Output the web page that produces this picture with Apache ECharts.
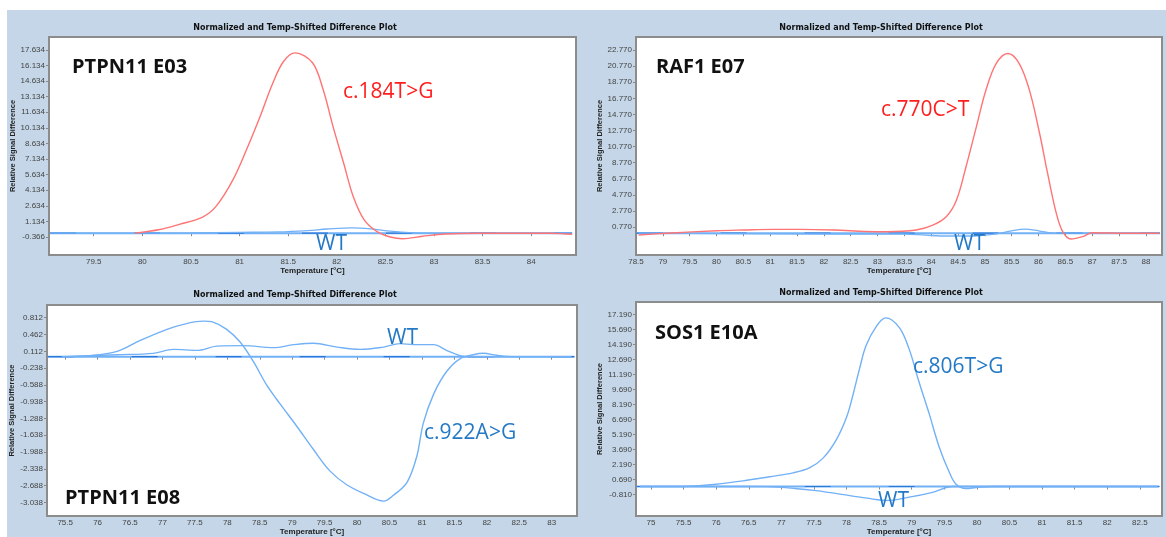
<!DOCTYPE html>
<html>
<head>
<meta charset="utf-8">
<script src="https://cdn.jsdelivr.net/npm/echarts@6/dist/echarts.min.js"></script>
<style>
  html, body { margin: 0; padding: 0; background: #ffffff; }
  #chart { width: 1166px; height: 537px; }
</style>
</head>
<body>
<div id="chart"></div>
<script>
// ---- PTPN11 E03 ----
const e03Temp   = [79.92, 80.18, 80.38, 80.62, 80.76, 80.93, 81.07, 81.21, 81.34, 81.45, 81.57, 81.75, 81.86, 81.96, 82.07, 82.17, 82.28, 82.41, 82.55, 82.68, 82.88, 83.12, 83.47, 83.9, 84.2, 84.36, 84.42];
const e03Mut    = [0.0, 0.35, 0.85, 1.55, 2.6, 5.1, 8.0, 11.2, 14.4, 16.5, 17.35, 16.4, 13.8, 10.3, 6.75, 3.5, 1.3, 0.17, -0.37, -0.53, -0.3, -0.08, 0.0, 0.0, 0.0, -0.08, -0.1];
const e03WtTemp = [79.05, 80.0, 80.5, 81.0, 81.4, 81.7, 81.9, 82.15, 82.35, 82.55, 82.75, 83.0, 84.42];
const e03Wt     = [0, 0, 0.03, 0.08, 0.12, 0.25, 0.4, 0.52, 0.42, 0.2, 0.05, 0, 0];
const e03XTicks = [79.5, 80, 80.5, 81, 81.5, 82, 82.5, 83, 83.5, 84];
const e03YTicks = [-0.366, 1.134, 2.634, 4.134, 5.634, 7.134, 8.634, 10.134, 11.634, 13.134, 14.634, 16.134, 17.634];

// ---- RAF1 E07 ----
const e07Temp   = [78.55, 79.08, 80.01, 80.5, 81.06, 81.56, 82.18, 82.98, 83.17, 83.72, 84.03, 84.28, 84.47, 84.65, 84.84, 85.02, 85.21, 85.43, 85.64, 85.83, 86.02, 86.17, 86.33, 86.45, 86.6, 86.82, 87.0, 87.62, 88.25];
const e07Mut    = [-0.22, 0.0, 0.31, 0.4, 0.48, 0.48, 0.4, 0.19, 0.19, 0.4, 1.0, 2.05, 4.1, 8.3, 13.2, 17.8, 21.1, 22.35, 21.1, 17.8, 12.4, 7.4, 2.5, 0.19, -0.72, -0.43, 0.06, 0.0, 0.0];
const e07WtTemp = [78.55, 80.0, 82.0, 83.5, 83.9, 84.3, 84.8, 85.2, 85.5, 85.75, 86.0, 86.3, 87.0, 88.25];
const e07Wt     = [0, -0.05, -0.1, -0.1, -0.25, -0.35, -0.35, -0.1, 0.3, 0.5, 0.3, 0.0, 0, 0];
const e07XTicks = [78.5, 79, 79.5, 80, 80.5, 81, 81.5, 82, 82.5, 83, 83.5, 84, 84.5, 85, 85.5, 86, 86.5, 87, 87.5, 88];
const e07YTicks = [0.770, 2.770, 4.770, 6.770, 8.770, 10.770, 12.770, 14.770, 16.770, 18.770, 20.770, 22.770];

// ---- PTPN11 E08 ----
const e08Temp   = [75.45, 75.89, 76.3, 76.66, 77.07, 77.37, 77.63, 77.78, 77.99, 78.2, 78.4, 78.61, 78.81, 79.07, 79.33, 79.58, 79.84, 80.1, 80.41, 80.56, 80.77, 80.92, 81.02, 81.18, 81.38, 81.59, 81.79, 81.95, 82.15, 82.41, 83.3];
const e08Mut    = [0, 0.02, 0.11, 0.34, 0.57, 0.69, 0.74, 0.72, 0.57, 0.3, -0.1, -0.6, -0.98, -1.45, -1.94, -2.38, -2.67, -2.85, -3.01, -2.89, -2.62, -2.08, -1.39, -0.78, -0.31, -0.04, 0.04, 0.07, 0.03, 0, 0];
const e08WtTemp = [75.45, 76.3, 76.86, 77.17, 77.53, 77.84, 78.25, 78.71, 79.02, 79.33, 79.69, 80.05, 80.41, 80.66, 80.87, 81.18, 81.38, 81.59, 81.75, 83.3];
const e08Wt     = [0, 0.04, 0.07, 0.15, 0.13, 0.22, 0.23, 0.19, 0.25, 0.28, 0.2, 0.15, 0.2, 0.27, 0.25, 0.25, 0.13, 0.02, 0, 0];
const e08XTicks = [75.5, 76, 76.5, 77, 77.5, 78, 78.5, 79, 79.5, 80, 80.5, 81, 81.5, 82, 82.5, 83];
const e08YTicks = [0.812, 0.462, 0.112, -0.238, -0.588, -0.938, -1.288, -1.638, -1.988, -2.338, -2.688, -3.038];

// ---- SOS1 E10A ----
const e10Temp   = [74.83, 75.49, 76.0, 76.41, 76.82, 77.18, 77.43, 77.64, 77.84, 78.0, 78.1, 78.2, 78.3, 78.46, 78.6, 78.81, 78.96, 79.11, 79.27, 79.42, 79.58, 79.68, 79.83, 79.99, 80.24, 82.77];
const e10Mut    = [0, 0, 0.23, 0.56, 0.98, 1.37, 1.86, 2.84, 4.64, 6.92, 9.2, 11.8, 14.1, 16.05, 16.87, 15.9, 13.77, 10.5, 7.24, 3.98, 1.37, 0.23, -0.2, -0.1, 0, 0];
const e10WtTemp = [74.83, 76.5, 76.77, 77.2, 77.53, 78.05, 78.45, 78.6, 78.96, 79.32, 79.63, 80.0, 82.77];
const e10Wt     = [0, 0, -0.02, -0.2, -0.42, -0.91, -1.3, -1.4, -1.07, -0.58, 0, 0, 0];
const e10XTicks = [75, 75.5, 76, 76.5, 77, 77.5, 78, 78.5, 79, 79.5, 80, 80.5, 81, 81.5, 82, 82.5];
const e10YTicks = [-0.810, 0.690, 2.190, 3.690, 5.190, 6.690, 8.190, 9.690, 11.190, 12.690, 14.190, 15.690, 17.190];

const plotTitle = 'Normalized and Temp-Shifted Difference Plot';
const xName = 'Temperature [°C]';
const yName = 'Relative Signal Difference';

const RED = '#ff7474';
const BLUE = '#72b1f6';
const DARK_BLUE = '#1f6fd4';
const LABEL_BLUE = '#2479c6';
const LABEL_RED = '#ff1e1e';

const zip = (xs, ys) => xs.map((x, i) => [x, ys[i]]);

// panel layout: plot box, axis ranges, curves, title position
const panels = [
  { grid: { left: 49, top: 37, width: 527, height: 218 }, x: [79.04, 84.46], y: [-2.1, 18.88],
    xTicks: e03XTicks, yTicks: e03YTicks, yGap: 31,
    mut: zip(e03Temp, e03Mut), wt: zip(e03WtTemp, e03Wt), mutColor: RED,
    titleX: 295, titleY: 28 },
  { grid: { left: 636, top: 37, width: 526, height: 218 }, x: [78.5, 88.3], y: [-2.71, 24.4],
    xTicks: e07XTicks, yTicks: e07YTicks, yGap: 31,
    mut: zip(e07Temp, e07Mut), wt: zip(e07WtTemp, e07Wt), mutColor: RED,
    titleX: 881, titleY: 28 },
  { grid: { left: 47, top: 305, width: 530, height: 216 }, x: [75.22, 83.39], y: [-3.323, 1.077],
    xTicks: e08XTicks, yTicks: e08YTicks, yGap: 29,
    mut: zip(e08Temp, e08Mut), wt: zip(e08WtTemp, e08Wt), mutColor: BLUE,
    titleX: 295, titleY: 295 },
  { grid: { left: 636, top: 302, width: 526, height: 219 }, x: [74.77, 82.84], y: [-2.96, 18.46],
    xTicks: e10XTicks, yTicks: e10YTicks, yGap: 31,
    mut: zip(e10Temp, e10Mut), wt: zip(e10WtTemp, e10Wt), mutColor: BLUE,
    titleX: 881, titleY: 293 }
];

const annotations = [
  { text: 'PTPN11 E03', x: 72, y: 67, kind: 'name' },
  { text: 'c.184T>G', x: 343, y: 92, kind: 'red' },
  { text: 'WT', x: 316, y: 244, kind: 'blue' },
  { text: 'RAF1 E07', x: 656, y: 67, kind: 'name' },
  { text: 'c.770C>T', x: 881, y: 110, kind: 'red' },
  { text: 'WT', x: 954, y: 244, kind: 'blue' },
  { text: 'PTPN11 E08', x: 65, y: 498, kind: 'name' },
  { text: 'WT', x: 387, y: 338, kind: 'blue' },
  { text: 'c.922A>G', x: 424, y: 433, kind: 'blue' },
  { text: 'SOS1 E10A', x: 655, y: 333, kind: 'name' },
  { text: 'c.806T>G', x: 913, y: 367, kind: 'blue' },
  { text: 'WT', x: 878, y: 501, kind: 'blue' }
];

const grids = [], xAxes = [], yAxes = [], series = [];
const graphics = [
  { type: 'rect', shape: { x: 7, y: 10, width: 1159, height: 527 }, style: { fill: '#c4d6e7' }, z: -10 }
];

panels.forEach((p, i) => {
  grids.push(Object.assign({ show: true, backgroundColor: '#ffffff', borderColor: '#8c8c8c', borderWidth: 2 }, p.grid));
  xAxes.push({
    type: 'value', gridIndex: i, min: p.x[0], max: p.x[1],
    name: xName, nameLocation: 'middle', nameGap: 10,
    nameTextStyle: { fontFamily: 'Liberation Sans', fontSize: 8, fontWeight: 'bold', color: '#222' },
    axisLine: { show: false },
    splitLine: { show: false },
    axisTick: { show: true, length: 3, lineStyle: { color: '#888' }, customValues: p.xTicks },
    axisLabel: { customValues: p.xTicks, margin: 3, fontFamily: 'Liberation Sans', fontSize: 8, color: '#444',
      formatter: v => String(v) }
  });
  yAxes.push({
    type: 'value', gridIndex: i, min: p.y[0], max: p.y[1],
    name: yName, nameLocation: 'middle', nameGap: p.yGap, nameRotate: 90,
    nameTextStyle: { fontFamily: 'Liberation Sans', fontSize: 7.5, fontWeight: 'bold', color: '#222' },
    axisLine: { show: false },
    splitLine: { show: false },
    axisTick: { show: true, length: 3, lineStyle: { color: '#888' }, customValues: p.yTicks },
    axisLabel: { customValues: p.yTicks, margin: 4, fontFamily: 'Liberation Sans', fontSize: 8, color: '#444',
      formatter: v => v.toFixed(3) }
  });
  const base = [[p.x[0] + 0.01, 0], [p.x[1] - 0.04, 0]];
  series.push(
    { type: 'line', xAxisIndex: i, yAxisIndex: i, data: base, showSymbol: false, silent: true,
      lineStyle: { color: BLUE, width: 2 } },
    { type: 'line', xAxisIndex: i, yAxisIndex: i, data: base, showSymbol: false, silent: true,
      lineStyle: { color: DARK_BLUE, width: 1.2, type: [26, 58], opacity: 0.85 } },
    { type: 'line', xAxisIndex: i, yAxisIndex: i, data: p.wt, showSymbol: false, smooth: 0.35, silent: true,
      lineStyle: { color: BLUE, width: 1.3 } },
    { type: 'line', xAxisIndex: i, yAxisIndex: i, data: p.mut, showSymbol: false, smooth: 0.35, silent: true,
      lineStyle: { color: p.mutColor, width: 1.4 } }
  );
  graphics.push({ type: 'text', x: p.titleX, y: p.titleY,
    style: { text: plotTitle, align: 'center', verticalAlign: 'middle',
      font: 'bold 8px "DejaVu Sans"', fill: '#111' } });
});

annotations.forEach(a => {
  const font = a.kind === 'name' ? 'bold 20px "Open Sans"' : '21px "Open Sans"';
  const fill = a.kind === 'name' ? '#111111' : (a.kind === 'red' ? LABEL_RED : LABEL_BLUE);
  graphics.push({ type: 'text', x: a.x, y: a.y, z: 20,
    style: { text: a.text, align: 'left', verticalAlign: 'middle', font: font, fill: fill } });
});

const chart = echarts.init(document.getElementById('chart'), null, { renderer: 'canvas' });
chart.setOption({
  animation: false,
  backgroundColor: '#ffffff',
  grid: grids,
  xAxis: xAxes,
  yAxis: yAxes,
  series: series,
  graphic: graphics
});
</script>
</body>
</html>
